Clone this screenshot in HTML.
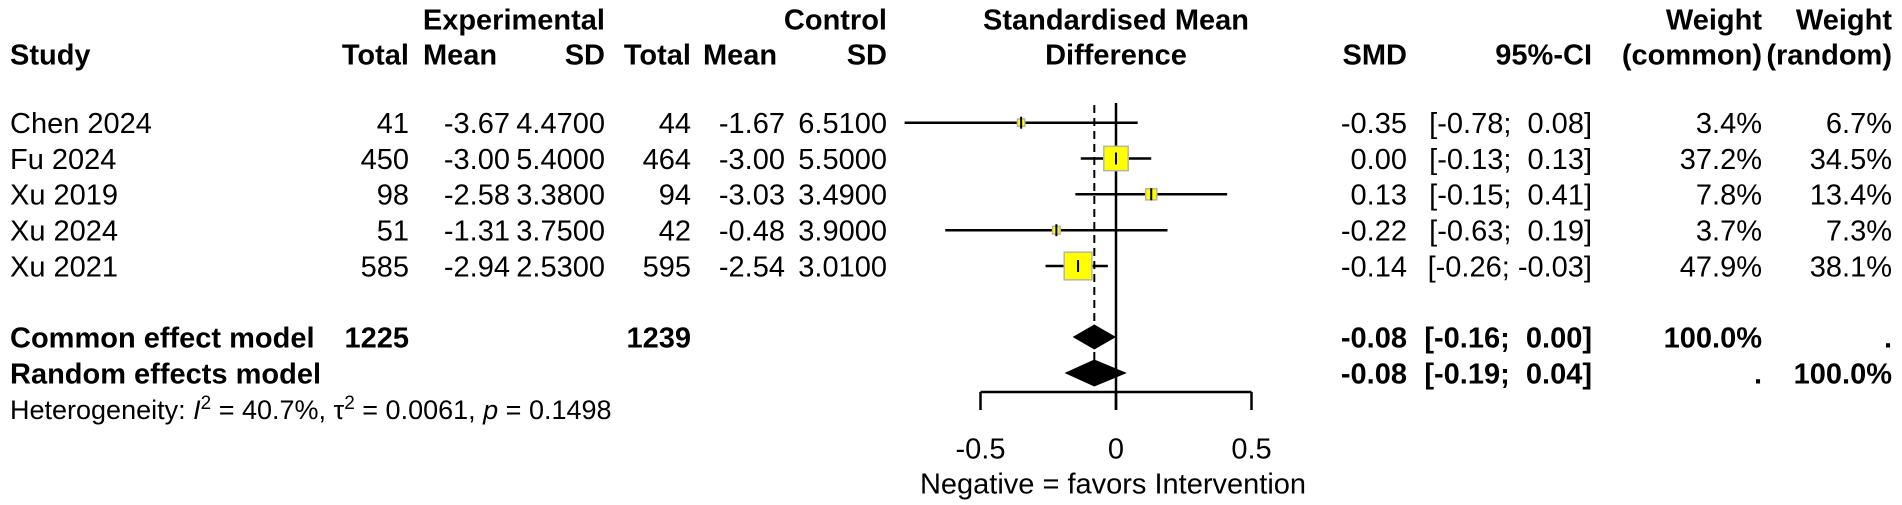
<!DOCTYPE html>
<html><head><meta charset="utf-8">
<style>
html,body{margin:0;padding:0;background:#fff;}
svg{display:block;font-family:"Liberation Sans",Arial,sans-serif;}
</style></head>
<body>
<svg id="plot" width="1902" height="505" viewBox="0 0 1902 505" xmlns="http://www.w3.org/2000/svg"></svg>
<script>
const studies = ["Chen 2024","Fu 2024","Xu 2019","Xu 2024","Xu 2021"];
const expTotal = ["41","450","98","51","585"];
const expMean = ["-3.67","-3.00","-2.58","-1.31","-2.94"];
const expSD = ["4.4700","5.4000","3.3800","3.7500","2.5300"];
const ctlTotal = ["44","464","94","42","595"];
const ctlMean = ["-1.67","-3.00","-3.03","-0.48","-2.54"];
const ctlSD = ["6.5100","5.5000","3.4900","3.9000","3.0100"];
const smd = [-0.35, 0.00, 0.13, -0.22, -0.14];
const ciLow = [-0.78, -0.13, -0.15, -0.63, -0.26];
const ciHigh = [0.08, 0.13, 0.41, 0.19, -0.03];
const weightCommon = [3.4, 37.2, 7.8, 3.7, 47.9];
const weightRandom = [6.7, 34.5, 13.4, 7.3, 38.1];
const commonEst = [-0.08, -0.16, 0.00];
const randomEst = [-0.08, -0.19, 0.04];
const xTicks = [-0.5, 0, 0.5];
const xTickLabels = ["-0.5","0","0.5"];

const svg = document.getElementById('plot');
const NS = "http://www.w3.org/2000/svg";
const X0 = 1116, SCALE = 271;
function xs(v){ return X0 + v*SCALE; }
const rowY = [122.7,158.5,194.3,230.2,266];
const commonY = 337, randomY = 373;

function el(tag, attrs, parent){
  const e = document.createElementNS(NS, tag);
  for (const k in attrs) e.setAttribute(k, attrs[k]);
  (parent||svg).appendChild(e);
  return e;
}
function txt(s, x, yc, anchor, bold, size, name){
  const t = el('text', {x:x, y:yc + (size||29)*0.36, 'text-anchor':anchor||'start', 'font-size':size||29, 'font-weight':bold?'bold':'normal', fill:'#000'});
  t.setAttribute('xml:space','preserve');
  t.textContent = s;
  
  
  return t;
}
function fmt(v){ return (v<0?'-':'')+Math.abs(v).toFixed(2); }
function fmtCI(a,b){ return '['+fmt(a)+';\u00a0'+(b>=0?'\u00a0':'')+fmt(b)+']'; }

// headers
const H1 = 19, H2 = 54;
txt('Experimental', 605, H1, 'end', true, 29, 'experimental-header');
txt('Control', 887, H1, 'end', true, 29, 'control-header');
txt('Standardised Mean', 1116, H1, 'middle', true, 29, 'smd-header');
txt('Weight', 1762, H1, 'end', true, 29, 'weight-common-header-top');
txt('Weight', 1892, H1, 'end', true, 29, 'weight-random-header-top');
txt('Study', 10, H2, 'start', true, 29, 'study-header');
txt('Total', 409, H2, 'end', true, 29, 'exp-total-header');
txt('Mean', 423, H2, 'start', true, 29, 'exp-mean-header');
txt('SD', 605, H2, 'end', true, 29, 'exp-sd-header');
txt('Total', 691, H2, 'end', true, 29, 'ctl-total-header');
txt('Mean', 703, H2, 'start', true, 29, 'ctl-mean-header');
txt('SD', 887, H2, 'end', true, 29, 'ctl-sd-header');
txt('Difference', 1116, H2, 'middle', true, 29, 'difference-header');
txt('SMD', 1407, H2, 'end', true, 29, 'smd-col-header');
txt('95%-CI', 1592, H2, 'end', true, 29, 'ci-header');
txt('(common)', 1762, H2, 'end', true, 29, 'weight-common-header');
txt('(random)', 1892, H2, 'end', true, 29, 'weight-random-header');

// reference lines
const dash = el('line', {x1:xs(commonEst[0]), x2:xs(commonEst[0]), y1:105, y2:randomY, stroke:'#000', 'stroke-width':2, 'stroke-dasharray':'8,5'});


const zl = el('line', {x1:xs(0), x2:xs(0), y1:103, y2:410, stroke:'#000', 'stroke-width':2.5});



// study rows
studies.forEach((s,i)=>{
  const y = rowY[i];
  txt(s, 10, y, 'start', false, 29, 'study-name');
  txt(expTotal[i], 409, y, 'end', false, 29, 'exp-total');
  txt(expMean[i], 510, y, 'end', false, 29, 'exp-mean');
  txt(expSD[i], 605, y, 'end', false, 29, 'exp-sd');
  txt(ctlTotal[i], 691, y, 'end', false, 29, 'ctl-total');
  txt(ctlMean[i], 785, y, 'end', false, 29, 'ctl-mean');
  txt(ctlSD[i], 887, y, 'end', false, 29, 'ctl-sd');
  txt(fmt(smd[i]), 1407, y, 'end', false, 29, 'smd-value');
  txt(fmtCI(ciLow[i], ciHigh[i]), 1592, y, 'end', false, 29, 'ci-value');
  txt(weightCommon[i].toFixed(1)+'%', 1762, y, 'end', false, 29, 'weight-common');
  txt(weightRandom[i].toFixed(1)+'%', 1892, y, 'end', false, 29, 'weight-random');
  const ci = el('line', {x1:xs(ciLow[i]), x2:xs(ciHigh[i]), y1:y, y2:y, stroke:'#000', 'stroke-width':2.5});
  
  
  const sz = 4*Math.sqrt(weightCommon[i]);
  const sq = el('rect', {x:xs(smd[i])-sz/2, y:y-sz/2, width:sz, height:sz, fill:'#ffff00', stroke:'#b8b8a0', 'stroke-width':1.5});
  
  
  const tk = el('line', {x1:xs(smd[i]), x2:xs(smd[i]), y1:y-6, y2:y+6, stroke:'#000', 'stroke-width':2});
  
  
});

// summary rows
txt('Common effect model', 10, commonY, 'start', true, 29, 'common-effect-label');
txt('1225', 409, commonY, 'end', true, 29, 'common-exp-total');
txt('1239', 691, commonY, 'end', true, 29, 'common-ctl-total');
txt(fmt(commonEst[0]), 1407, commonY, 'end', true, 29, 'common-smd');
txt(fmtCI(commonEst[1], commonEst[2]), 1592, commonY, 'end', true, 29, 'common-ci');
txt('100.0%', 1762, commonY, 'end', true, 29, 'common-weight-common');
txt('.', 1892, commonY, 'end', true, 29, 'common-weight-random');
txt('Random effects model', 10, randomY, 'start', true, 29, 'random-effects-label');
txt(fmt(randomEst[0]), 1407, randomY, 'end', true, 29, 'random-smd');
txt(fmtCI(randomEst[1], randomEst[2]), 1592, randomY, 'end', true, 29, 'random-ci');
txt('.', 1762, randomY, 'end', true, 29, 'random-weight-common');
txt('100.0%', 1892, randomY, 'end', true, 29, 'random-weight-random');

function diamond(est, y, h, name){
  const d = el('polygon', {points:`${xs(est[1])},${y} ${xs(est[0])},${y-h} ${xs(est[2])},${y} ${xs(est[0])},${y+h}`, fill:'#000'});
  
  
}
diamond(commonEst, commonY, 12.5, 'common-effect-diamond');
diamond(randomEst, randomY, 13.5, 'random-effects-diamond');

// heterogeneity
const het = el('text', {x:10, y:409+10, 'font-size':27, fill:'#000'});


het.innerHTML = 'Heterogeneity: <tspan font-style="italic">I</tspan><tspan dy="-10" font-size="19">2</tspan><tspan dy="10"> = 40.7%, \u03c4</tspan><tspan dy="-10" font-size="19">2</tspan><tspan dy="10"> = 0.0061, </tspan><tspan font-style="italic">p</tspan> = 0.1498';

// x axis
const ax = el('line', {x1:xs(xTicks[0]), x2:xs(xTicks[xTicks.length-1]), y1:392, y2:392, stroke:'#000', 'stroke-width':2.5});


xTicks.forEach((t,i)=>{
  const l = el('line', {x1:xs(t), x2:xs(t), y1:392, y2:410, stroke:'#000', 'stroke-width':2.5});
  
  
  txt(xTickLabels[i], xs(t), 448, 'middle', false, 29, 'x-tick-label');
});
txt('Negative = favors Intervention', 1113, 483, 'middle', false, 29, 'x-axis-title');
</script>
</body></html>
